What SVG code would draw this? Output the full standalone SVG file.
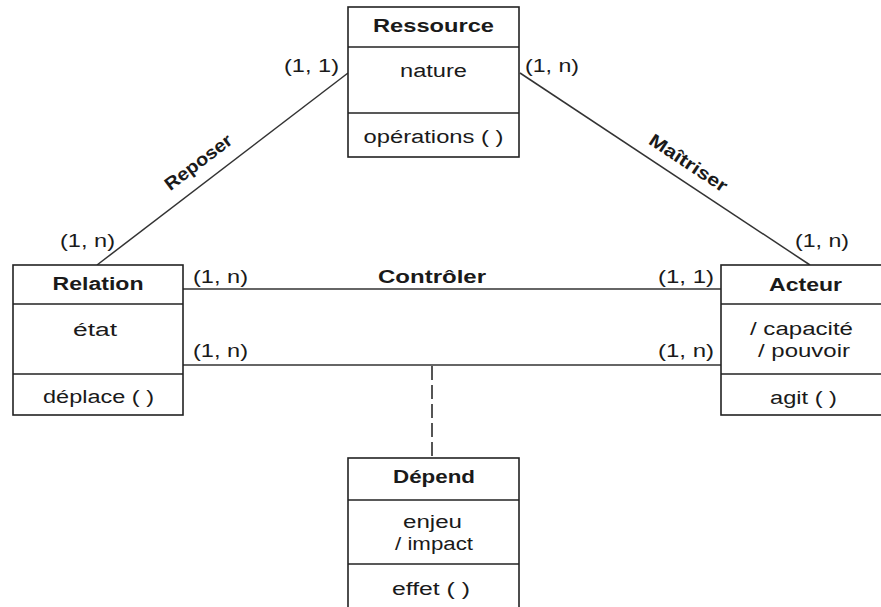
<svg xmlns="http://www.w3.org/2000/svg" width="881" height="607" viewBox="0 0 881 607">
<style>
.box{fill:#fff;stroke:#222;stroke-width:1.6}
.div{stroke:#222;stroke-width:1.6}
.ln{stroke:#333;stroke-width:1.5;fill:none}
.dash{stroke:#555;stroke-width:2;stroke-dasharray:14 5;fill:none}
text{font-family:"Liberation Sans",Arial,sans-serif;font-size:18px;fill:#1a1a1a}
.t{font-weight:bold;text-anchor:middle}
.c{text-anchor:middle}
.b{font-weight:bold}
</style>
<rect width="881" height="607" fill="#fff"/>
<g id="connectors">
<line class="ln" x1="97" y1="265" x2="348" y2="73"/>
<line class="ln" x1="520" y1="73" x2="810" y2="265"/>
<line class="ln" x1="183" y1="289" x2="721" y2="289"/>
<line class="ln" x1="183" y1="365" x2="721" y2="365"/>
<line class="dash" x1="432" y1="366" x2="432" y2="458"/>
<text transform="translate(202,167) rotate(-37.4)" class="t" x="0" y="0" textLength="80" lengthAdjust="spacingAndGlyphs">Reposer</text>
<text transform="translate(685,168) rotate(33.5)" class="t" x="0" y="0" textLength="90" lengthAdjust="spacingAndGlyphs">Maîtriser</text>
<text class="t" x="432" y="283" textLength="108" lengthAdjust="spacingAndGlyphs">Contrôler</text>
<text x="284" y="72" textLength="55" lengthAdjust="spacingAndGlyphs">(1, 1)</text>
<text x="525" y="72" textLength="54" lengthAdjust="spacingAndGlyphs">(1, n)</text>
<text x="60" y="247" textLength="55" lengthAdjust="spacingAndGlyphs">(1, n)</text>
<text x="795" y="247" textLength="54" lengthAdjust="spacingAndGlyphs">(1, n)</text>
<text x="193" y="283" textLength="55" lengthAdjust="spacingAndGlyphs">(1, n)</text>
<text x="193" y="357" textLength="55" lengthAdjust="spacingAndGlyphs">(1, n)</text>
<text x="658" y="283" textLength="56" lengthAdjust="spacingAndGlyphs">(1, 1)</text>
<text x="658" y="357" textLength="56" lengthAdjust="spacingAndGlyphs">(1, n)</text>
</g>
<g id="ressource">
<rect class="box" x="348" y="7" width="171" height="150"/>
<line class="div" x1="348" y1="47" x2="519" y2="47"/>
<line class="div" x1="348" y1="113" x2="519" y2="113"/>
<text class="t" x="433.5" y="32" textLength="121" lengthAdjust="spacingAndGlyphs">Ressource</text>
<text class="c" x="433.5" y="77" textLength="67" lengthAdjust="spacingAndGlyphs">nature</text>
<text class="c" x="433.5" y="143" textLength="140" lengthAdjust="spacingAndGlyphs">opérations ( )</text>
</g>
<g id="relation">
<rect class="box" x="13" y="265" width="170" height="150"/>
<line class="div" x1="13" y1="304" x2="183" y2="304"/>
<line class="div" x1="13" y1="374" x2="183" y2="374"/>
<text class="t" x="98" y="290" textLength="91" lengthAdjust="spacingAndGlyphs">Relation</text>
<text class="c" x="95" y="336" textLength="44" lengthAdjust="spacingAndGlyphs">état</text>
<text class="c" x="98.5" y="403" textLength="111" lengthAdjust="spacingAndGlyphs">déplace ( )</text>
</g>
<g id="acteur">
<rect class="box" x="721" y="265" width="172" height="150"/>
<line class="div" x1="721" y1="304" x2="893" y2="304"/>
<line class="div" x1="721" y1="374" x2="893" y2="374"/>
<text class="t" x="805.5" y="291" textLength="73" lengthAdjust="spacingAndGlyphs">Acteur</text>
<text class="c" x="801.5" y="335" textLength="103" lengthAdjust="spacingAndGlyphs">/ capacité</text>
<text class="c" x="804" y="357" textLength="92" lengthAdjust="spacingAndGlyphs">/ pouvoir</text>
<text class="c" x="803.5" y="404" textLength="67" lengthAdjust="spacingAndGlyphs">agit ( )</text>
</g>
<g id="depend">
<rect class="box" x="348" y="458" width="171" height="160"/>
<line class="div" x1="348" y1="500" x2="519" y2="500"/>
<line class="div" x1="348" y1="564" x2="519" y2="564"/>
<text class="t" x="434" y="483" textLength="82" lengthAdjust="spacingAndGlyphs">Dépend</text>
<text class="c" x="432.5" y="528" textLength="59" lengthAdjust="spacingAndGlyphs">enjeu</text>
<text class="c" x="434" y="550" textLength="78" lengthAdjust="spacingAndGlyphs">/ impact</text>
<text class="c" x="431" y="595" textLength="78" lengthAdjust="spacingAndGlyphs">effet ( )</text>
</g>
</svg>
